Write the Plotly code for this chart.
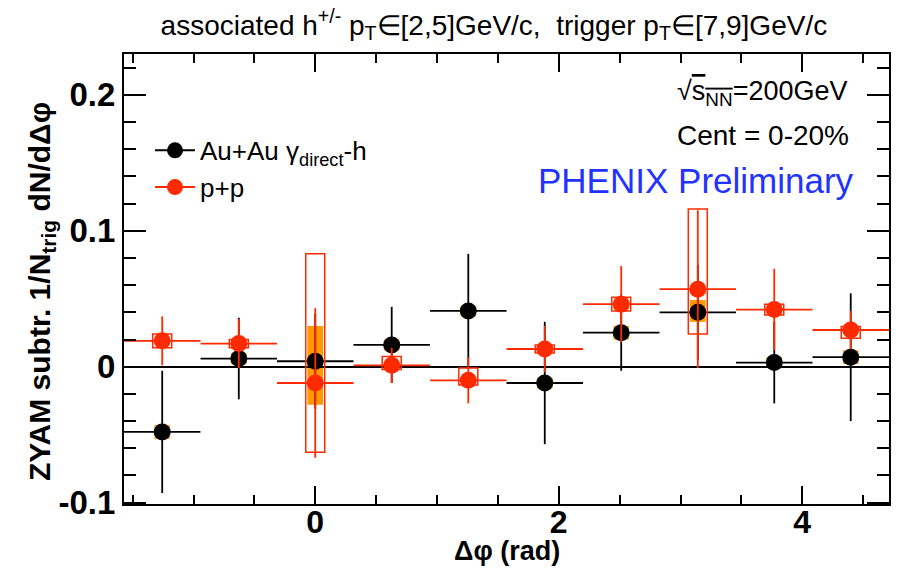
import math
import plotly.graph_objects as go

# ---- data ----
dphi = [-1.257, -0.628, 0.0, 0.628, 1.257, 1.885, 2.513, 3.142, 3.770, 4.398]
bin_half = [0.314] * 10

auau_y = [-0.048, 0.006, 0.004, 0.016, 0.041, -0.012, 0.025, 0.040, 0.003, 0.007]
auau_err = [0.045, 0.030, 0.035, 0.028, 0.042, 0.045, 0.028, 0.035, 0.030, 0.047]
auau_sys_lo = [-0.053, 0.002, -0.028, 0.012, 0.037, -0.016, 0.020, 0.033, -0.001, 0.002]
auau_sys_hi = [-0.043, 0.010, 0.030, 0.020, 0.045, -0.008, 0.030, 0.049, 0.007, 0.012]

pp_y = [0.019, 0.017, -0.012, 0.001, -0.010, 0.013, 0.046, 0.057, 0.042, 0.027]
pp_err = [0.018, 0.018, 0.055, 0.013, 0.017, 0.017, 0.028, 0.058, 0.030, 0.014]
pp_sys_lo = [0.014, 0.014, -0.063, -0.002, -0.0135, 0.010, 0.041, 0.024, 0.038, 0.021]
pp_sys_hi = [0.024, 0.020, 0.083, 0.0075, -0.001, 0.016, 0.051, 0.116, 0.046, 0.0295]

y_tickvals = [-0.1, 0.0, 0.1, 0.2]
y_ticktext = ["-0.1", "0", "0.1", "0.2"]
x_tickvals = [0, 2, 4]
x_ticktext = ["0", "2", "4"]

BLACK = "#000000"
RED = "#ff2a00"
ORANGE = "#ff9900"
FONT = "Liberation Sans, Arial, sans-serif"

fig = go.Figure()

# systematic boxes
shapes = []
for x, lo, hi in zip(dphi, auau_sys_lo, auau_sys_hi):
    shapes.append(dict(type="rect", xref="x", yref="y", x0=x - 0.064, x1=x + 0.064,
                       y0=lo, y1=hi, fillcolor=ORANGE, line=dict(width=0), layer="below"))
for x, lo, hi in zip(dphi, pp_sys_lo, pp_sys_hi):
    shapes.append(dict(type="rect", xref="x", yref="y", x0=x - 0.078, x1=x + 0.078,
                       y0=lo, y1=hi, fillcolor="rgba(0,0,0,0)", line=dict(color=RED, width=1.5),
                       layer="above"))

fig.add_trace(go.Scatter(
    x=dphi, y=auau_y, mode="markers", showlegend=False,
    marker=dict(color=BLACK, size=17),
    error_y=dict(type="data", array=auau_err, color=BLACK, thickness=1.8, width=0),
    error_x=dict(type="data", array=bin_half, color=BLACK, thickness=1.8, width=0),
))
fig.add_trace(go.Scatter(
    x=dphi, y=pp_y, mode="markers", showlegend=False,
    marker=dict(color=RED, size=17),
    error_y=dict(type="data", array=pp_err, color=RED, thickness=1.8, width=0),
    error_x=dict(type="data", array=bin_half, color=RED, thickness=1.8, width=0),
))
# legend entries
fig.add_trace(go.Scatter(x=[None], y=[None], mode="lines+markers", name="Au+Au γ<sub>direct</sub>-h",
                         marker=dict(color=BLACK, size=17), line=dict(color=BLACK, width=2)))
fig.add_trace(go.Scatter(x=[None], y=[None], mode="lines+markers", name="p+p",
                         marker=dict(color=RED, size=17), line=dict(color=RED, width=2)))

annotations = [
    dict(text="ZYAM subtr. 1/N<sub>trig</sub> dN/dΔφ", xref="paper", yref="paper",
         x=-0.108, y=0.472, textangle=-90, showarrow=False, xanchor="center", yanchor="middle",
         font=dict(family=FONT, size=30, color="black", weight="bold")),
    dict(text="Δφ (rad)", xref="paper", yref="paper", x=0.5, y=-0.105, showarrow=False,
         xanchor="center", yanchor="middle",
         font=dict(family=FONT, size=27, color="black", weight="bold")),
    dict(text="√<span style='text-decoration:overline'>s<sub>NN</sub></span>=200GeV",
         xref="paper", yref="paper", x=0.948, y=0.913, showarrow=False,
         xanchor="right", yanchor="middle", font=dict(family=FONT, size=27, color="black")),
    dict(text="Cent = 0-20%", xref="paper", yref="paper", x=0.950, y=0.818, showarrow=False,
         xanchor="right", yanchor="middle", font=dict(family=FONT, size=28, color="black")),
    dict(text="PHENIX Preliminary", xref="paper", yref="paper", x=0.957, y=0.72, showarrow=False,
         xanchor="right", yanchor="middle", font=dict(family=FONT, size=35, color="#2233ff")),
]

fig.update_layout(
    width=898, height=576,
    margin=dict(l=124, r=7, t=54, b=72),
    paper_bgcolor="white", plot_bgcolor="white",
    font=dict(family=FONT, color="black"),
    title=dict(text="associated h<sup>+/-</sup> p<sub>T</sub>∈[2,5]GeV/c,\u00a0 trigger p<sub>T</sub>∈[7,9]GeV/c",
               x=0.55, xanchor="center", y=0.957, yanchor="middle", yref="container",
               font=dict(family=FONT, size=28, color="black")),
    shapes=shapes,
    annotations=annotations,
    legend=dict(x=0.034, y=0.838, xanchor="left", yanchor="top", bgcolor="rgba(0,0,0,0)",
                font=dict(family=FONT, size=26, color="black"), itemwidth=40, tracegroupgap=0),
    xaxis=dict(range=[-math.pi / 2, 3 * math.pi / 2], tickmode="array", tickvals=x_tickvals,
               ticktext=x_ticktext, ticks="inside", ticklen=18, tickwidth=1.5, tickcolor="black",
               minor=dict(tickmode="linear", tick0=0, dtick=0.5, ticks="inside", ticklen=9,
                          tickwidth=1.5, tickcolor="black"),
               showline=True, linewidth=2, linecolor="black", mirror="ticks",
               showgrid=False, zeroline=False, ticklabelstandoff=-11,
               tickfont=dict(family=FONT, size=32, color="black", weight="bold")),
    yaxis=dict(range=[-0.101, 0.23], tickmode="array", tickvals=y_tickvals, ticktext=y_ticktext,
               ticks="inside", ticklen=22, tickwidth=1.5, tickcolor="black",
               minor=dict(tickmode="linear", tick0=0, dtick=0.02, ticks="inside", ticklen=12,
                          tickwidth=1.5, tickcolor="black"),
               showline=True, linewidth=2, linecolor="black", mirror="ticks",
               showgrid=False, zeroline=True, zerolinecolor="black", zerolinewidth=1.5,
               tickfont=dict(family=FONT, size=33, color="black", weight="bold")),
)

fig.write_html("out.html")
